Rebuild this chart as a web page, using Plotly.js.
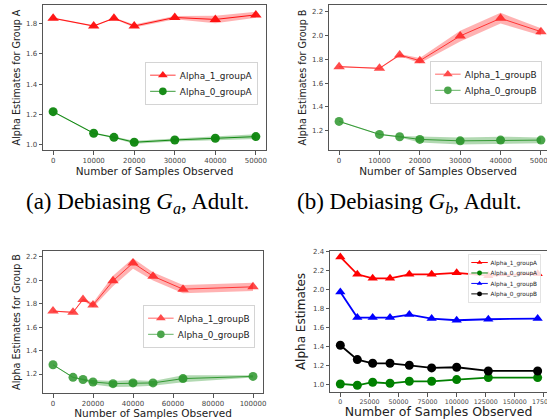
<!DOCTYPE html>
<html>
<head>
<meta charset="utf-8">
<script src="https://cdn.plot.ly/plotly-3.0.1.min.js"></script>
<style>html,body{margin:0;padding:0;background:#fff;}#chart{width:547px;height:419px;}</style>
</head>
<body>
<div id="chart"></div>
<script>
// ---------- Data ----------
// (a) Debiasing G_a, Adult
const xA = [0, 10000, 15000, 20000, 30000, 40000, 50000];
const a_alpha1A = [1.833, 1.782, 1.833, 1.782, 1.838, 1.825, 1.855];
const a_alpha1A_lo = [1.828, 1.777, 1.828, 1.772, 1.826, 1.800, 1.836];
const a_alpha1A_hi = [1.838, 1.787, 1.838, 1.792, 1.848, 1.850, 1.875];
const a_alpha0A = [1.219, 1.077, 1.050, 1.018, 1.033, 1.044, 1.055];
const a_alpha0A_lo = [1.214, 1.072, 1.045, 1.008, 1.023, 1.033, 1.040];
const a_alpha0A_hi = [1.224, 1.082, 1.055, 1.028, 1.043, 1.055, 1.070];

// (b) Debiasing G_b, Adult
const xB = [0, 10000, 15000, 20000, 30000, 40000, 50000];
const b_alpha1B = [1.738, 1.724, 1.836, 1.788, 1.996, 2.144, 2.032];
const b_alpha1B_lo = [1.733, 1.719, 1.828, 1.766, 1.950, 2.100, 2.000];
const b_alpha1B_hi = [1.743, 1.729, 1.844, 1.810, 2.040, 2.190, 2.060];
const b_alpha0B = [1.278, 1.169, 1.149, 1.127, 1.115, 1.121, 1.121];
const b_alpha0B_lo = [1.273, 1.164, 1.142, 1.100, 1.085, 1.088, 1.094];
const b_alpha0B_hi = [1.283, 1.174, 1.156, 1.150, 1.144, 1.150, 1.144];

// (c) Debiasing G_b, longer run
const xC = [0, 10000, 15000, 20000, 30000, 40000, 50000, 65000, 100000];
const c_alpha1B = [1.738, 1.727, 1.837, 1.789, 1.996, 2.149, 2.036, 1.925, 1.945];
const c_alpha1B_lo = [1.733, 1.722, 1.828, 1.770, 1.950, 2.100, 2.000, 1.890, 1.910];
const c_alpha1B_hi = [1.743, 1.732, 1.846, 1.810, 2.040, 2.190, 2.070, 1.960, 1.980];
const c_alpha0B = [1.279, 1.172, 1.153, 1.132, 1.118, 1.124, 1.124, 1.161, 1.180];
const c_alpha0B_lo = [1.274, 1.167, 1.146, 1.110, 1.090, 1.092, 1.100, 1.130, 1.170];
const c_alpha0B_hi = [1.284, 1.177, 1.160, 1.150, 1.140, 1.150, 1.140, 1.190, 1.190];

// (d) all four estimates
const xD = [0, 14600, 27800, 42700, 59300, 78500, 100000, 127200, 169600];
const d_alpha1A = [2.347, 2.164, 2.122, 2.122, 2.164, 2.164, 2.180, 2.150, 2.170];
const d_alpha0A = [1.007, 0.993, 1.025, 1.014, 1.035, 1.035, 1.053, 1.074, 1.074];
const d_alpha1B = [1.978, 1.707, 1.707, 1.707, 1.739, 1.697, 1.679, 1.690, 1.697];
const d_alpha0B = [1.415, 1.264, 1.225, 1.225, 1.204, 1.176, 1.183, 1.144, 1.144];

// Tick labels
const yTicksAB = [1.0, 1.2, 1.4, 1.6, 1.8, 2.0, 2.2];
const yTicksD = [1.0, 1.2, 1.4, 1.6, 1.8, 2.0, 2.2, 2.4];
const xTicksAB = [0, 10000, 20000, 30000, 40000, 50000];
const xTicksC = [0, 20000, 40000, 60000, 80000, 100000];
const xTicksD = [0, 25000, 50000, 75000, 100000, 125000, 150000, 175000];

// ---------- Helpers ----------
const RED = '#ff0000', GREEN = '#008000';
function band(x, lo, hi, color, xa, ya) {
  return {
    x: x.concat(x.slice().reverse()),
    y: hi.concat(lo.slice().reverse()),
    fill: 'toself', fillcolor: color, line: {width: 0}, mode: 'lines',
    hoverinfo: 'skip', showlegend: false, xaxis: xa, yaxis: ya
  };
}
function series(x, y, name, color, sym, size, lw, xa, ya, leg, opacity) {
  return {
    x: x, y: y, name: name, mode: 'lines+markers',
    line: {color: color, width: lw},
    marker: {color: color, symbol: sym, size: size},
    opacity: opacity, xaxis: xa, yaxis: ya, legend: leg
  };
}

const traces = [
  band(xA, a_alpha1A_lo, a_alpha1A_hi, 'rgba(255,0,0,0.3)', 'x', 'y'),
  band(xA, a_alpha0A_lo, a_alpha0A_hi, 'rgba(0,128,0,0.3)', 'x', 'y'),
  series(xA, a_alpha1A, 'Alpha_1_groupA', RED, 'triangle-up', 10, 1, 'x', 'y', 'legend', 0.9),
  series(xA, a_alpha0A, 'Alpha_0_groupA', GREEN, 'circle', 9, 1, 'x', 'y', 'legend', 0.9),

  band(xB, b_alpha1B_lo, b_alpha1B_hi, 'rgba(255,0,0,0.3)', 'x2', 'y2'),
  band(xB, b_alpha0B_lo, b_alpha0B_hi, 'rgba(0,128,0,0.3)', 'x2', 'y2'),
  series(xB, b_alpha1B, 'Alpha_1_groupB', RED, 'triangle-up', 10, 1, 'x2', 'y2', 'legend2', 0.7),
  series(xB, b_alpha0B, 'Alpha_0_groupB', GREEN, 'circle', 9, 1, 'x2', 'y2', 'legend2', 0.7),

  band(xC, c_alpha1B_lo, c_alpha1B_hi, 'rgba(255,0,0,0.3)', 'x3', 'y3'),
  band(xC, c_alpha0B_lo, c_alpha0B_hi, 'rgba(0,128,0,0.3)', 'x3', 'y3'),
  series(xC, c_alpha1B, 'Alpha_1_groupB', RED, 'triangle-up', 10, 1, 'x3', 'y3', 'legend3', 0.7),
  series(xC, c_alpha0B, 'Alpha_0_groupB', GREEN, 'circle', 9, 1, 'x3', 'y3', 'legend3', 0.7),

  series(xD, d_alpha1A, 'Alpha_1_groupA', RED, 'triangle-up', 9, 1.8, 'x4', 'y4', 'legend4', 1),
  series(xD, d_alpha0A, 'Alpha_0_groupA', GREEN, 'circle', 9, 1.8, 'x4', 'y4', 'legend4', 1),
  series(xD, d_alpha1B, 'Alpha_1_groupB', '#0000ff', 'triangle-up', 9, 1.8, 'x4', 'y4', 'legend4', 1),
  series(xD, d_alpha0B, 'Alpha_0_groupB', '#000000', 'circle', 9, 1.8, 'x4', 'y4', 'legend4', 1)
];

const FONT = 'DejaVu Sans, sans-serif';
function xax(domain, range, ticks, anchor, titleSize, standoff, tickSize) {
  return {
    domain: domain, range: range, anchor: anchor, tickvals: ticks, tickformat: 'd', tickangle: 0,
    ticklabeloverflow: 'allow',
    showline: true, linecolor: '#555', linewidth: 1, mirror: true,
    ticks: 'outside', ticklen: 3.5, tickcolor: '#555',
    tickfont: {family: FONT, size: tickSize, color: '#444'},
    showgrid: false, zeroline: false, automargin: false,
    title: {text: 'Number of Samples Observed', font: {family: FONT, size: titleSize, color: '#222'}, standoff: standoff}
  };
}
function yax(domain, range, ticks, anchor, title, titleSize, mirror, standoff) {
  return {
    domain: domain, range: range, anchor: anchor, tickvals: ticks, tickformat: '.1f',
    showline: true, linecolor: '#555', linewidth: 1, mirror: mirror,
    ticks: 'outside', ticklen: 3.5, tickcolor: '#555',
    tickfont: {family: FONT, size: 7, color: '#444'},
    showgrid: false, zeroline: false, automargin: false,
    title: {text: title, font: {family: FONT, size: titleSize, color: '#222'}, standoff: standoff}
  };
}
function leg(x, y, size) {
  return {
    x: x, y: y, xref: 'paper', yref: 'paper', xanchor: 'left', yanchor: 'top',
    bgcolor: 'rgba(255,255,255,0.85)', bordercolor: '#ccc', borderwidth: 1,
    font: {family: FONT, size: size, color: '#222'}, itemwidth: 30, tracegroupgap: 0
  };
}

const W = 547, H = 419;
const px = v => v / W, py = v => 1 - v / H;

const layout = {
  width: W, height: H, margin: {l: 0, r: 0, t: 0, b: 0, autoexpand: false},
  paper_bgcolor: '#fff', plot_bgcolor: '#fff', showlegend: true,
  xaxis: xax([px(43), px(266)], [-2500, 52500], xTicksAB, 'y', 10.5, 3, 7),
  yaxis: yax([py(150), py(5)], [0.967, 1.92], yTicksAB, 'x', 'Alpha Estimates for Group A', 9.6, true, 3),
  xaxis2: xax([px(329), 1], [-2500, 51500], xTicksAB, 'y2', 10.5, 3, 7),
  yaxis2: yax([py(150), py(5)], [1.038, 2.256], yTicksAB, 'x2', 'Alpha Estimates for Group B', 9.6, false, 3),
  xaxis3: xax([px(43), px(263)], [-5000, 105000], xTicksC, 'y3', 10.5, 3, 7),
  yaxis3: yax([py(393), py(251)], [1.038, 2.251], yTicksAB, 'x3', 'Alpha Estimates for Group B', 9.6, true, 3),
  xaxis4: xax([px(330), 1], [-8880, 177650], xTicksD, 'y4', 12.5, 3, 6.3),
  yaxis4: yax([py(392), py(251)], [0.922, 2.41], yTicksD, 'x4', 'Alpha Estimates', 12, false, 4),
  legend: leg(px(145), py(62), 10.5),
  legend2: leg(px(430), py(61), 10.5),
  legend3: leg(px(143), py(305), 10.5),
  legend4: leg(px(468), py(254), 10.5),
  annotations: [
    {text: '(a) Debiasing <i>G</i><sub><i>a</i></sub>, Adult.', x: px(137), y: py(203), xref: 'paper', yref: 'paper',
     showarrow: false, xanchor: 'center', yanchor: 'middle', font: {family: 'Liberation Serif, serif', size: 23, color: '#000'}},
    {text: '(b) Debiasing <i>G</i><sub><i>b</i></sub>, Adult.', x: px(295), y: py(203), xref: 'paper', yref: 'paper',
     showarrow: false, xanchor: 'left', yanchor: 'middle', font: {family: 'Liberation Serif, serif', size: 23, color: '#000'}}
  ]
};

// legend scale factors (matplotlib legends are more compact than Plotly's)
const legendScale = {legend: 0.85, legend2: 0.85, legend3: 0.85, legend4: 0.55};

Plotly.newPlot('chart', traces, layout, {displayModeBar: false, staticPlot: true}).then(function () {
  Object.keys(legendScale).forEach(function (id) {
    const g = document.querySelector('g.' + id);
    if (g) {
      const t = g.getAttribute('transform') || '';
      g.setAttribute('transform', t + ' scale(' + legendScale[id] + ')');
    }
  });
});
</script>
</body>
</html>
